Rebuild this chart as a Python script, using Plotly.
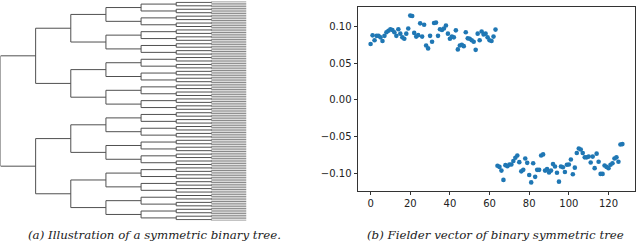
import plotly.graph_objects as go

# ---------------- data ----------------
tree_depth = 7  # 2**7 = 128 leaves
fiedler = [
    0.076, 0.0877, 0.081, 0.087, 0.087, 0.085, 0.080, 0.087, 0.092, 0.094,
    0.096, 0.095, 0.092, 0.087, 0.096, 0.090, 0.085, 0.083, 0.090, 0.097,
    0.1145, 0.114, 0.091, 0.086, 0.088, 0.104, 0.086, 0.102, 0.074, 0.070,
    0.087, 0.079, 0.1045, 0.105, 0.087, 0.096, 0.095, 0.097, 0.101, 0.090,
    0.083, 0.086, 0.085, 0.0945, 0.0686, 0.074, 0.075, 0.073, 0.092, 0.0836,
    0.083, 0.081, 0.079, 0.068, 0.090, 0.081, 0.093, 0.089, 0.090, 0.085,
    0.081, 0.080, 0.086, 0.0955,
    -0.0895, -0.091, -0.096, -0.1086, -0.0886, -0.090, -0.0877, -0.0877, -0.083, -0.0786,
    -0.0755, -0.0845, -0.097, -0.095, -0.0795, -0.0855, -0.102, -0.112, -0.086, -0.1045,
    -0.095, -0.095, -0.0755, -0.074, -0.096, -0.094, -0.0986, -0.096, -0.087, -0.0905,
    -0.099, -0.111, -0.0905, -0.0914, -0.098, -0.088, -0.0877, -0.081, -0.101, -0.092,
    -0.072, -0.066, -0.0673, -0.072, -0.078, -0.078, -0.077, -0.085, -0.077, -0.0927,
    -0.073, -0.084, -0.1005, -0.1005, -0.089, -0.091, -0.0927, -0.088, -0.086, -0.0795,
    -0.078, -0.084, -0.0605, -0.060,
]
x_ticks = [0, 20, 40, 60, 80, 100, 120]
y_ticks = [-0.10, -0.05, 0.00, 0.05, 0.10]
caption_a = "(a) Illustration of a symmetric binary tree."
caption_b = "(b) Fielder vector of binary symmetric tree"

W, H = 640, 241
n_leaves = 2 ** tree_depth

# ---------------- dendrogram links ----------------
def links(levels):
    tx, ty = [], []
    for h in levels:
        span = 2 ** h
        half = span // 2
        for j in range(n_leaves // span):
            start = j * span
            c1 = start + (half - 1) / 2
            c2 = start + half + (half - 1) / 2
            tx += [h - 1, h, h, h - 1, None]
            ty += [c1, c1, c2, c2, None]
    return tx, ty

fig = go.Figure()
lx, ly = links([1])
fig.add_trace(go.Scatter(x=lx, y=ly, mode="lines",
                         line=dict(color="#7a7a7a", width=0.9),
                         hoverinfo="skip", showlegend=False,
                         xaxis="x", yaxis="y"))
ux, uy = links(range(2, tree_depth + 1))
fig.add_trace(go.Scatter(x=ux, y=uy, mode="lines",
                         line=dict(color="#505050", width=1),
                         hoverinfo="skip", showlegend=False,
                         xaxis="x", yaxis="y"))

fig.add_trace(go.Scatter(x=list(range(len(fiedler))), y=fiedler, mode="markers",
                         marker=dict(color="#1f77b4", size=4.6, line=dict(width=0)),
                         showlegend=False, xaxis="x2", yaxis="y2"))

def px_x(p):
    return p / W

def px_y(p):
    return 1 - p / H

font_tick = dict(family="DejaVu Sans", size=10, color="#222")
font_cap = dict(family="DejaVu Serif", size=11.8, color="#222")

fig.update_layout(
    width=W, height=H,
    margin=dict(l=0, r=0, t=0, b=0),
    paper_bgcolor="white", plot_bgcolor="white",
    xaxis=dict(domain=[px_x(0.5), px_x(246.5)], range=[tree_depth, 0],
               visible=False, fixedrange=True),
    yaxis=dict(domain=[px_y(220.5), px_y(1.5)], range=[n_leaves - 1, 0],
               visible=False, fixedrange=True),
    xaxis2=dict(domain=[px_x(358), px_x(635)], range=[-6.35, 133.35],
                anchor="y2", showline=True, mirror=True, linecolor="#333",
                linewidth=1, showgrid=False, zeroline=False,
                ticks="outside", ticklen=3.5, tickcolor="#333",
                tickvals=x_ticks, tickfont=font_tick),
    yaxis2=dict(domain=[px_y(190.7), px_y(7.3)], range=[-0.1233, 0.1258],
                anchor="x2", showline=True, mirror=True, linecolor="#333",
                linewidth=1, showgrid=False, zeroline=False,
                ticks="outside", ticklen=3.5, tickcolor="#333",
                tickvals=y_ticks, tickformat=".2f", tickfont=font_tick),
    annotations=[
        dict(text="<i>" + caption_a + "</i>", x=px_x(154), y=px_y(235),
             xref="paper", yref="paper", showarrow=False,
             xanchor="center", yanchor="middle", font=font_cap),
        dict(text="<i>" + caption_b + "</i>", x=px_x(495), y=px_y(235),
             xref="paper", yref="paper", showarrow=False,
             xanchor="center", yanchor="middle", font=font_cap),
    ],
)

fig.write_html(
    "out.html",
    config={"displayModeBar": False},
    post_script="document.body.style.margin='0';document.body.style.overflow='hidden';",
)
